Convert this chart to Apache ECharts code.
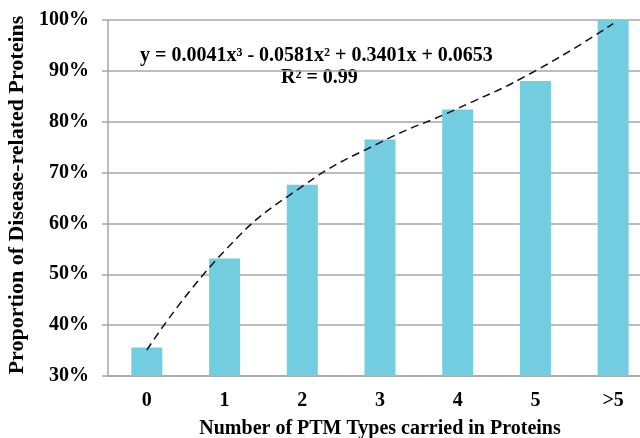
<!DOCTYPE html>
<html>
<head>
<meta charset="utf-8">
<script src="https://cdn.jsdelivr.net/npm/echarts@6/dist/echarts.min.js"></script>
<style>
  html, body { margin: 0; padding: 0; background: #fff; }
  #chart { width: 640px; height: 438px; }
</style>
</head>
<body>
<div id="chart"></div>
<script>
// categories and values
const categories = ['0', '1', '2', '3', '4', '5', '>5'];
const proportions = [35.6, 53.1, 67.6, 76.5, 82.4, 88.0, 100.0];
// dashed trend line, read at each category centre
const trendValues = [35.1, 54.6, 67.3, 75.9, 82.6, 90.0, 99.3];
const yTicks = [30, 40, 50, 60, 70, 80, 90, 100];

const equationText = 'y = 0.0041x³ - 0.0581x² + 0.3401x + 0.0653';
const r2Text = 'R² = 0.99';

const font = '"Liberation Serif", "Times New Roman", serif';
const grey = '#a6a6a6';

const chart = echarts.init(document.getElementById('chart'));

const option = {
  animation: false,
  grid: {
    left: 108,
    right: -12,
    top: 20,
    bottom: 62,
    outerBoundsMode: 'none',
  },
  xAxis: {
    type: 'category',
    data: categories,
    name: 'Number of PTM Types carried in Proteins',
    nameLocation: 'middle',
    nameGap: 43,
    nameTextStyle: {
      fontFamily: font,
      fontWeight: 'bold',
      fontSize: 20,
      color: '#000',
    },
    axisLine: { lineStyle: { color: grey, width: 1.5 } },
    axisTick: { show: false },
    axisLabel: {
      fontFamily: font,
      fontWeight: 'bold',
      fontSize: 20,
      color: '#000',
      margin: 15,
    },
  },
  yAxis: {
    type: 'value',
    min: yTicks[0],
    max: yTicks[yTicks.length - 1],
    interval: 10,
    name: 'Proportion of Disease-related Proteins',
    nameLocation: 'middle',
    nameGap: 77,
    nameTextStyle: {
      fontFamily: font,
      fontWeight: 'bold',
      fontSize: 22,
      color: '#000',
      padding: [0, 0, 0, 6],
    },
    axisLine: { show: true, lineStyle: { color: grey, width: 1.5 } },
    axisTick: { show: true, length: 6, lineStyle: { color: grey, width: 1.5 } },
    splitLine: { show: true, lineStyle: { color: grey, width: 1.5 } },
    axisLabel: {
      fontFamily: font,
      fontWeight: 'bold',
      fontSize: 20,
      color: '#000',
      margin: 19,
      formatter: (v) => v + '%',
    },
  },
  series: [
    {
      name: 'proportion',
      type: 'bar',
      data: proportions,
      barWidth: 31,
      itemStyle: { color: '#72cde0' },
    },
    {
      name: 'trend',
      type: 'line',
      data: trendValues,
      smooth: 0.5,
      symbol: 'none',
      clip: false,
      z: 5,
      lineStyle: {
        color: '#111',
        width: 1.5,
        type: [8, 5],
      },
    },
  ],
  graphic: [
    {
      type: 'text',
      left: 140,
      top: 46,
      style: {
        text: equationText,
        fontFamily: font,
        fontWeight: 'bold',
        fontSize: 20,
        fill: '#000',
      },
    },
    {
      type: 'text',
      left: 281,
      top: 68,
      style: {
        text: r2Text,
        fontFamily: font,
        fontWeight: 'bold',
        fontSize: 20,
        fill: '#000',
      },
    },
  ],
};

chart.setOption(option);
</script>
</body>
</html>
